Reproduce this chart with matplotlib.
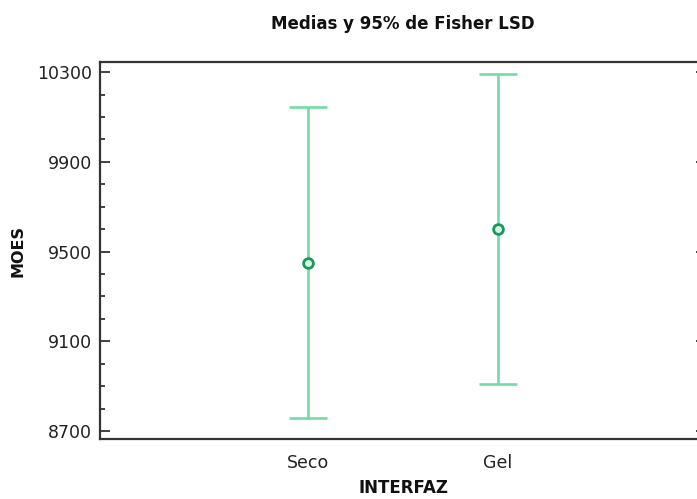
import numpy as np
import matplotlib
matplotlib.use("Agg")
import matplotlib.pyplot as plt
from matplotlib.ticker import MultipleLocator

# Medias y limites LSD al 95%
categorias = ['Seco', 'Gel']
medias = [9450, 9600]
inferior = [8757, 8909]
superior = [10144, 10291]
yticks = [8700, 9100, 9500, 9900, 10300]

plt.rcParams['font.family'] = ['DejaVu Sans']

fig = plt.figure(figsize=(6.97, 4.99), dpi=100)
ax = fig.add_axes([0.1435, 0.1202, 0.8694, 0.7555])

x = np.arange(len(categorias))
yerr = [np.array(medias) - np.array(inferior), np.array(superior) - np.array(medias)]

ax.errorbar(x, medias, yerr=yerr, fmt='none', ecolor='#72dca4', elinewidth=1.9,
            capsize=14, capthick=1.9, zorder=2)
ax.plot(x, medias, 'o', ms=7, mfc='#d9f5e6', mec='#17995a', mew=2.0, zorder=3)

ax.set_xlim(-1.095, 2.095)
ax.set_ylim(8664, 10345)
ax.set_xticks(x)
ax.set_xticklabels(categorias)
ax.set_yticks(yticks)
ax.yaxis.set_minor_locator(MultipleLocator(100))

ax.tick_params(axis='y', which='major', direction='in', length=7.5, width=1.3,
               color='#333333', labelsize=12.5, labelcolor='#222222', right=True, pad=6)
ax.tick_params(axis='y', which='minor', direction='in', length=3.8, width=1.3,
               color='#333333', right=True)
ax.tick_params(axis='x', length=0, labelsize=12.5, labelcolor='#222222', pad=11)

for s in ax.spines.values():
    s.set_linewidth(1.6)
    s.set_color('#333333')

ax.set_title('Medias y 95% de Fisher LSD', fontsize=12, fontweight='bold',
             color='#111111', pad=24)
ax.set_xlabel('INTERFAZ', fontsize=12, fontweight='bold', color='#111111', labelpad=5)
ax.set_ylabel('MOES', fontsize=11.5, fontweight='bold', color='#111111', labelpad=8)

fig.savefig('out.png', dpi=100)
